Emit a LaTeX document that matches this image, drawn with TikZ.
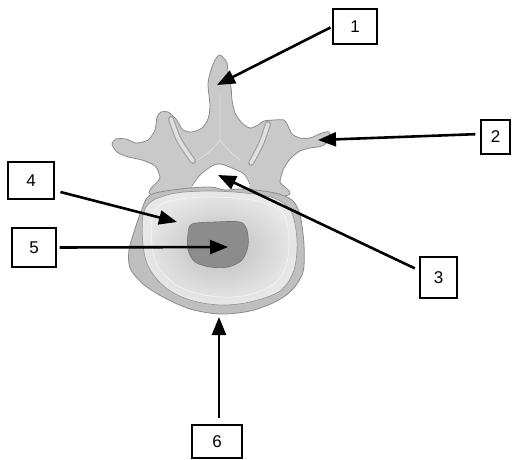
\documentclass[tikz,border=0pt]{standalone}
\usepackage{fontspec}
\usepackage{tikz}
\usetikzlibrary{arrows.meta}
\newfontfamily\labelfont{Liberation Sans}

\begin{document}
\begin{tikzpicture}[
    x=1pt, y=-1pt,
    labelbox/.style   = {draw, line width=1.3pt, inner sep=0pt,
                         font=\labelfont\fontsize{17}{17}\selectfont},
    pointer/.style    = {line width=2.6pt, -{Triangle[length=18pt,width=14pt]}},
    bone/.style       = {fill=black!21, draw=black!45, line width=0.8pt},
    groove/.style     = {draw=black!36, line width=6pt, line cap=round},
    grooveface/.style = {draw=black!12, line width=3.6pt, line cap=round},
]
\useasboundingbox (0,0) rectangle (513,459);

% posterior arch
\draw [bone] plot [smooth cycle, tension=0.45] coordinates {
    (220,55) (227,63) (228,77) (231,87) (232,100) (235,113) (242,123)
    (250,128) (258,125) (264,121) (274,120) (284,120) (288,126) (292,134)
    (300,138) (310,138) (322,133) (329,132) (329,140) (322,146) (310,148)
    (300,151) (291,158) (284,168) (280,182) (284,196)
    (155,196) (160,178) (155,166) (142,160) (128,157) (117,152) (112,144)
    (116,139) (126,139) (136,143) (148,140) (155,130) (157,117) (161,112)
    (168,112) (176,119) (183,130) (192,132) (202,128) (208,119) (210,106)
    (208,84) (211,70) (215,60)};
\draw [groove]     plot [smooth] coordinates {(171,119) (179,140) (193,161)};
\draw [grooveface] plot [smooth] coordinates {(171,119) (179,140) (193,161)};
\draw [groove]     plot [smooth] coordinates {(268,124) (261,144) (251,163)};
\draw [grooveface] plot [smooth] coordinates {(268,124) (261,144) (251,163)};
\draw [black!12, line width=0.8pt] (220,95) -- (220,140) (198,160) .. controls (212,150) .. (220,140)
      .. controls (228,150) .. (240,160);

% vertebral foramen
\fill [white] plot [smooth cycle, tension=0.6] coordinates {
    (192,186) (200,175) (212,166) (220,164) (232,168) (244,174) (250,184) (240,192) (200,192)};
\draw [black!45, line width=0.8pt] plot [smooth, tension=0.6] coordinates {
    (192,186) (200,175) (212,166) (220,164) (232,168) (244,174) (250,184)};

% vertebral body and disc
\draw [fill=black!25, draw=black!45, line width=0.8pt] plot [smooth cycle, tension=0.5] coordinates {
    (150,195) (180,189) (210,187) (225,190) (245,189) (275,193) (292,200) (300,215)
    (304,245) (303,272) (292,290) (275,302) (250,311) (220,314) (190,309) (163,297)
    (143,284) (130,268) (129,250) (134,232) (141,212)};
\shade [inner color=black!26, outer color=black!9, draw=black!40, line width=0.7pt]
    plot [smooth cycle, tension=0.55] coordinates {
    (143,215) (152,201) (176,193) (210,191) (245,193) (274,198) (291,211) (297,240)
    (294,270) (280,291) (250,302) (220,305) (190,300) (166,288) (149,268) (143,245)};
\draw [black!4, line width=0.6pt] plot [smooth cycle, tension=0.55] coordinates {
    (152,218) (160,205) (180,199) (210,197) (245,199) (268,204) (284,215) (289,240)
    (286,266) (274,284) (248,295) (220,297) (192,292) (172,282) (157,265) (152,245)};
\draw [fill=black!45, draw=black!55, line width=0.6pt] plot [smooth cycle, tension=0.5] coordinates {
    (192,224) (215,222) (240,222) (247,230) (248,246) (242,260) (228,267) (210,267)
    (195,262) (188,250) (188,234)};

% labels
\node [labelbox, minimum width=44pt, minimum height=35pt] (box1) at (355,26.5) {1};
\node [labelbox, minimum width=29pt, minimum height=34pt] (box2) at (495.5,137) {2};
\node [labelbox, minimum width=37pt, minimum height=41pt] (box3) at (438.5,277.5) {3};
\node [labelbox, minimum width=46pt, minimum height=37pt] (box4) at (31,180.5) {4};
\node [labelbox, minimum width=44pt, minimum height=39pt] (box5) at (34,247.5) {5};
\node [labelbox, minimum width=50pt, minimum height=33pt] (box6) at (217,441.5) {6};

\coordinate (tip1) at (217,85);
\coordinate (tip2) at (318,140);
\coordinate (tip3) at (218,175);
\coordinate (tip4) at (177,222);
\coordinate (tip5) at (228,247);
\coordinate (tip6) at (219,317);

\draw [pointer, shorten <=2pt] (box1.west) -- (tip1);
\draw [pointer, shorten <=5pt] ([yshift=3pt]box2.west) -- (tip2);
\draw [pointer, shorten <=5pt] ([yshift=7pt]box3.west) -- (tip3);
\draw [pointer, shorten <=6pt] ([yshift=-10pt]box4.east) -- (tip4);
\draw [pointer, shorten <=3pt] (box5.east) -- (tip5);
\draw [pointer, shorten <=6pt] ([xshift=2pt]box6.north) -- (tip6);
\end{tikzpicture}
\end{document}
